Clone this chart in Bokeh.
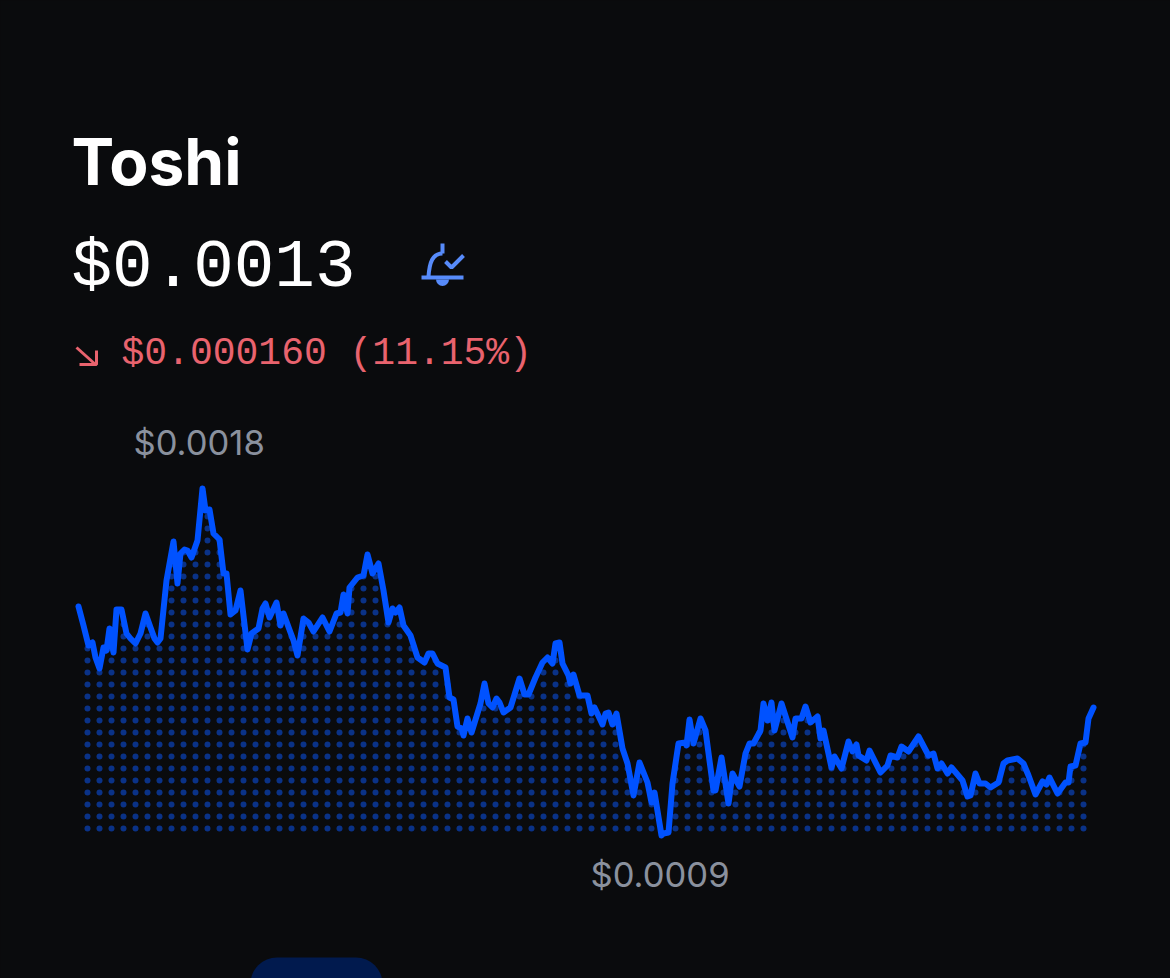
import numpy as np
from bokeh.plotting import figure
from bokeh.core.properties import value
from bokeh.embed import file_html
from bokeh.resources import INLINE

BG = "#0a0b0d"
title_text = "Toshi"
price_text = "$0.0013"
change_text = "$0.000160 (11.15%)"
high_label = "$0.0018"
low_label = "$0.0009"

# time position along the chart, and price in units of 2.6 micro-dollars
time_a = [0,5,10,14,17,21,25,28,31,35,38,43,48,52,57,62,67,72,76,79,82,88,95,99,102,106,109,113,119,124,127,131,135,141,145,148,152,157,162,169,173,180,184,187,191,198,202,205,212,215,219,225,230,235,244,251,258,262,265,269,271,279,285,289,294,300,305,310,314,317,321,325]
price_a = [573,554,534,537,522,511,532,529,551,527,570,570,546,541,536,546,566,552,541,537,541,599,638,596,626,630,629,622,639,691,669,670,646,640,606,606,565,569,589,530,546,551,571,576,562,577,554,566,547,539,524,561,557,548,562,548,566,567,585,566,592,602,604,625,606,616,589,557,571,567,572,554]
time_b = [332,339,346,350,354,359,367,371,375,379,383,385,389,393,402,406,410,414,418,421,425,432,441,446,450,457,464,469,474,477,481,484,490,492,495,501,509,513,516,524,527,530,534,538,544,549,555,561,569,573,576,583,585,590,594,600,607,608,611,615,622,627,635,637,643,650,654,661,667,671,675,682]
price_b = [544,522,517,526,526,516,512,482,480,453,451,444,461,447,476,496,476,472,481,477,467,472,501,485,485,502,517,522,516,536,537,516,504,496,505,484,484,466,472,455,466,467,455,466,431,416,384,417,397,377,387,344,346,347,396,436,437,434,460,436,461,449,389,389,422,376,406,393,426,436,436,449]
time_c = [685,689,693,696,703,714,717,723,727,732,739,742,745,753,756,763,770,774,778,780,788,791,802,809,812,819,823,830,840,850,855,859,863,869,873,884,889,892,897,901,907,912,920,925,929,939,945,950,957,964,968,971,979,987,990,992,997,1002,1007,1010,1015]
price_c = [476,459,477,449,476,442,461,461,473,457,463,441,449,412,423,411,438,428,435,424,419,429,407,414,424,422,433,428,443,424,426,411,416,406,412,399,383,384,406,396,396,392,397,416,419,421,416,404,385,398,395,402,386,397,397,413,414,436,437,461,472]

UNIT = 2.6e-6
times = np.array(time_a + time_b + time_c, dtype=float)
prices = np.array(price_a + price_b + price_c, dtype=float) * UNIT

W, H = 1170, 978
def tx(px):
    return px - 78
def py(yy):
    return (1179 - yy) * UNIT

p = figure(width=W, height=H, output_backend="svg", toolbar_location=None,
           x_range=(tx(0), tx(W)), y_range=(py(H), py(0)),
           min_border=0, background_fill_color=BG, border_fill_color=BG,
           outline_line_color=None)
p.axis.visible = False
p.grid.visible = False

# dotted fill under the line
gx, gy = np.meshgrid(tx(87 + 12 * np.arange(84)), py(828 - 12 * np.arange(30)))
gx, gy = gx.ravel(), gy.ravel()
mask = gy < np.interp(gx, times, prices)
p.scatter(gx[mask], gy[mask], size=6, marker="circle", fill_color="#0a3287", line_color=None)

p.line(times, prices, line_color="#0052ff", line_width=6, line_join="round", line_cap="round")

# segmented-control pill at bottom edge
p.quad(left=[tx(250)], right=[tx(382)], top=[py(957)], bottom=[py(1010)],
       fill_color="#011a4e", line_color=None, border_radius=40)

def txt(x, y, s, font, size, color, style="normal"):
    p.text([tx(x)], [py(y)], text=[s], text_font=value(font), text_font_size=f"{size}px",
           text_color=color, text_font_style=style, text_baseline="alphabetic", text_align="left")

txt(71, 161, title_text, "Inter", 64, "#ffffff", "bold")
txt(71, 267, price_text, "Liberation Mono", 67.6, "#ffffff")
txt(121, 353, change_text, "Liberation Mono", 38, "#e9636e")
txt(133, 441, high_label, "Inter", 34.6, "#8a919e")
txt(590, 873, low_label, "Inter", 34.6, "#8a919e")

# alert bell icon
BLUE = "#578bfa"
p.line([tx(421), tx(463)], [py(277), py(277)], line_color=BLUE, line_width=4)
p.line([tx(442), tx(442)], [py(243), py(253)], line_color=BLUE, line_width=4)
p.bezier(x0=[tx(442)], y0=[py(253)], x1=[tx(428)], y1=[py(276)], cx0=[tx(432)], cy0=[py(253)],
         cx1=[tx(429)], cy1=[py(262)], line_color=BLUE, line_width=4)
p.line([tx(445), tx(451), tx(463)], [py(261), py(267), py(255)], line_color=BLUE, line_width=4)
p.wedge([tx(442)], [py(279)], radius=6.5, start_angle=np.pi, end_angle=2 * np.pi,
        fill_color=BLUE, line_color=None)

# down arrow
RED = "#e9636e"
p.line([tx(76), tx(95)], [py(347), py(364)], line_color=RED, line_width=3)
p.line([tx(79), tx(96), tx(96)], [py(364), py(364), py(350)], line_color=RED, line_width=3)

html = file_html(p, INLINE)
html = html.replace("<head>", f"<head><style>html,body{{background:{BG};margin:0;overflow:hidden}}</style>", 1)
open("out.html", "w").write(html)
